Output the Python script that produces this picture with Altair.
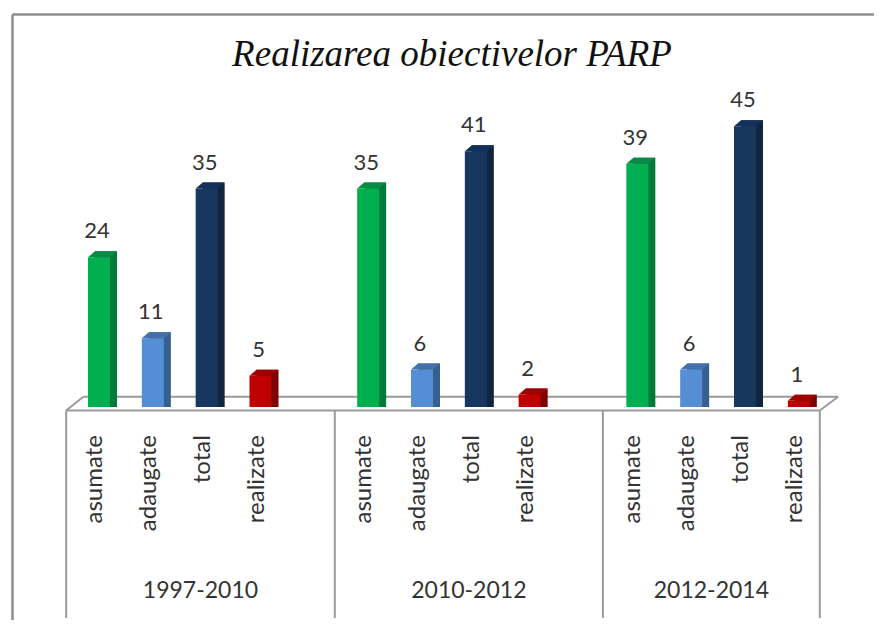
import altair as alt
import pandas as pd

TITLE = "Realizarea obiectivelor PARP"
categories = ["asumate", "adaugate", "total", "realizate"]
groups = ["1997-2010", "2010-2012", "2012-2014"]
values_1997 = [24, 11, 35, 5]
values_2010 = [35, 6, 41, 2]
values_2012 = [39, 6, 45, 1]
group_slots = [0, 5, 10]
group_dividers = [-0.61, 4.38, 9.36, 13.39]
group_centres = [1.885, 6.87, 11.375]

FRONT = ["#00B050", "#558ED5", "#17375E", "#C00000"]
SIDE = ["#007A3A", "#376092", "#10253F", "#7F0000"]
TOP = ["#0B8A45", "#4472A8", "#14305A", "#A00000"]
LINE = "#9A9A9A"
TEXT = "#333333"
FONT = "Lato"

rows = []
for g, start, vals in zip(groups, group_slots, [values_1997, values_2010, values_2012]):
    for i, (c, v) in enumerate(zip(categories, vals)):
        rows.append({"group": g, "category": c, "value": v, "slot": start + i})
df = pd.DataFrame(rows)
groups_df = pd.DataFrame({"group": groups, "slot": group_centres})

# plot area 866 x 612 at page offset (8, 8)
x_right = 14.3964
x_scale = alt.Scale(domain=[-1.6905, x_right], zero=False, nice=False, padding=0)
y_scale = alt.Scale(domain=[-34.13, 63.94], zero=False, nice=False, padding=0)
X = alt.X("slot:Q", scale=x_scale, axis=None)
Y = alt.Y("value:Q", scale=y_scale, axis=None)


def color(rng):
    return alt.Color("category:N", scale=alt.Scale(domain=categories, range=rng), legend=None)


def segs(records):
    return pd.DataFrame(records, columns=["x", "x2", "y", "y2"])


FLOOR_F, FLOOR_B, LOW = -0.56, 1.65, -33.8
frame_df = segs(
    [
        (-0.61, 13.39, FLOOR_F, FLOOR_F),
        (-0.29, 13.73, FLOOR_B, FLOOR_B),
        (-0.61, -0.29, FLOOR_F, FLOOR_B),
        (13.39, 13.73, FLOOR_F, FLOOR_B),
    ]
    + [(d, d, FLOOR_F, LOW) for d in group_dividers]
)
outer_df = segs([(-1.607, x_right, 62.9, 62.9), (-1.607, -1.607, 62.9, -34.13)])


def rule_layer(d, width, col):
    return (
        alt.Chart(d)
        .mark_rule(strokeWidth=width, color=col)
        .encode(
            x=alt.X("x:Q", scale=x_scale, axis=None),
            x2="x2:Q",
            y=alt.Y("y:Q", scale=y_scale, axis=None),
            y2="y2:Q",
        )
    )


base = alt.Chart(df)
side = base.mark_bar(size=22, orient="vertical", xOffset=7, yOffset=-6).encode(
    x=X, y=Y, y2=alt.datum(0), color=color(SIDE)
)
foot = base.mark_point(
    shape="M11 0L18 -6L11 -6Z", size=4, filled=True, opacity=1, strokeWidth=0
).encode(x=X, y=alt.Y(datum=0, scale=y_scale, axis=None), fill=alt.Fill("category:N", scale=alt.Scale(domain=categories, range=SIDE), legend=None))
top = base.mark_point(
    shape="M-11 0L11 0L18 -6L-4 -6Z", size=4, filled=True, opacity=1, strokeWidth=0
).encode(x=X, y=Y, fill=alt.Fill("category:N", scale=alt.Scale(domain=categories, range=TOP), legend=None))
front = base.mark_bar(size=22, orient="vertical").encode(
    x=X, y=Y, y2=alt.datum(0), color=color(FRONT)
)
value_labels = base.mark_text(
    font=FONT, fontSize=22, color=TEXT, dy=-26, xOffset=-2, baseline="middle"
).encode(x=X, y=Y, text="value:Q")
cat_labels = base.mark_text(
    font=FONT, fontSize=24, color=TEXT, angle=270, align="right", baseline="middle", xOffset=-4
).encode(x=X, y=alt.Y(datum=-4.49, scale=y_scale, axis=None), text="category:N")
group_labels = alt.Chart(groups_df).mark_text(
    font=FONT, fontSize=23, color=TEXT, baseline="middle"
).encode(
    x=alt.X("slot:Q", scale=x_scale, axis=None),
    y=alt.Y(datum=-29.5, scale=y_scale, axis=None),
    text="group:N",
)

chart = (
    alt.layer(
        rule_layer(outer_df, 2.5, "#8E8E8E"),
        rule_layer(frame_df, 2, LINE),
        side, foot, top, front,
        value_labels, cat_labels, group_labels,
    )
    .resolve_scale(color="independent", fill="independent")
    .properties(
        width=866,
        height=612,
        padding=0,
        autosize=alt.AutoSizeParams(type="none"),
        title=alt.Title(
            TITLE,
            font="Liberation Serif",
            fontStyle="italic",
            fontWeight="normal",
            fontSize=37,
            color="#111111",
            anchor="middle",
            frame="group",
            offset=-66,
            dx=11,
        ),
    )
    .configure_view(stroke=None)
)
chart.save("out.html", embed_options={"renderer": "svg", "actions": False})
